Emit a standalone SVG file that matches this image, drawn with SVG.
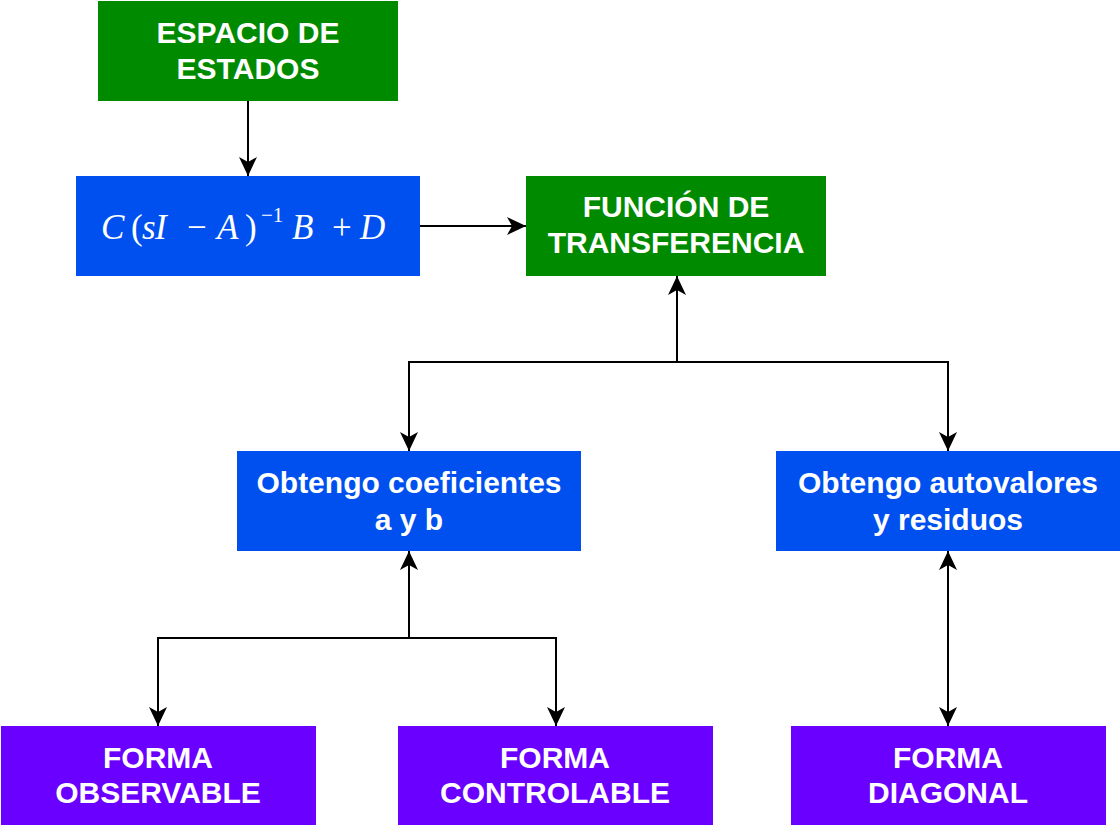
<svg xmlns="http://www.w3.org/2000/svg" width="1120" height="825" viewBox="0 0 1120 825">
<style>
.green{fill:#008a00}
.blue{fill:#0050ef}
.purple{fill:#6a00ff}
.lbl{font-family:"Liberation Sans",Arial,Helvetica,sans-serif;font-weight:bold;font-size:30px;fill:#ffffff;text-anchor:middle}
.math{font-family:"Liberation Serif","Times New Roman",serif;font-size:35px;fill:#ffffff}
.it{font-style:italic}
.conn{fill:none;stroke:#000000;stroke-width:2}
</style>
<defs>
<marker id="arr" markerUnits="userSpaceOnUse" viewBox="0 0 19 18" markerWidth="19" markerHeight="18" refX="19" refY="9" orient="auto-start-reverse">
<path d="M0,0 L19,9 L0,18 L5,9 Z" fill="#000000"/>
</marker>
</defs>
<rect width="1120" height="825" fill="#ffffff"/>
<g id="connectors">
<path class="conn" d="M248,101 L248,176" marker-end="url(#arr)"/>
<path class="conn" d="M420,226 L526,226" marker-end="url(#arr)"/>
<path class="conn" d="M677,362 L677,276" marker-end="url(#arr)"/>
<path class="conn" d="M677,362 L409,362 L409,451" marker-end="url(#arr)"/>
<path class="conn" d="M677,362 L948,362 L948,451" marker-end="url(#arr)"/>
<path class="conn" d="M409,638 L409,551" marker-end="url(#arr)"/>
<path class="conn" d="M409,638 L158,638 L158,726" marker-end="url(#arr)"/>
<path class="conn" d="M409,638 L556,638 L556,726" marker-end="url(#arr)"/>
<path class="conn" d="M948,551 L948,726" marker-start="url(#arr)" marker-end="url(#arr)"/>
</g>
<g id="espacio">
<rect class="green" x="98" y="1" width="300" height="100"/>
<text class="lbl" x="248" y="43">ESPACIO DE</text>
<text class="lbl" x="248" y="79">ESTADOS</text>
</g>
<g id="formula">
<rect class="blue" x="76" y="176" width="344" height="100"/>
<text class="math" y="239"><tspan class="it" x="101">C</tspan><tspan x="131">(</tspan><tspan class="it" x="142">s</tspan><tspan class="it" x="155">I</tspan><tspan x="187">−</tspan><tspan class="it" x="217">A</tspan><tspan x="245">)</tspan><tspan x="261" y="222" font-size="21">−1</tspan><tspan class="it" x="292" y="239">B</tspan><tspan x="332">+</tspan><tspan class="it" x="360">D</tspan></text>
</g>
<g id="funcion">
<rect class="green" x="526" y="176" width="300" height="100"/>
<text class="lbl" x="676" y="217">FUNCIÓN DE</text>
<text class="lbl" x="676" y="253">TRANSFERENCIA</text>
</g>
<g id="coeficientes">
<rect class="blue" x="237" y="451" width="344" height="100"/>
<text class="lbl" x="409" y="493">Obtengo coeficientes</text>
<text class="lbl" x="409" y="530">a y b</text>
</g>
<g id="autovalores">
<rect class="blue" x="776" y="451" width="344" height="100"/>
<text class="lbl" x="948" y="493">Obtengo autovalores</text>
<text class="lbl" x="948" y="530">y residuos</text>
</g>
<g id="observable">
<rect class="purple" x="1" y="726" width="315" height="99"/>
<text class="lbl" x="158" y="768">FORMA</text>
<text class="lbl" x="158" y="803">OBSERVABLE</text>
</g>
<g id="controlable">
<rect class="purple" x="398" y="726" width="315" height="99"/>
<text class="lbl" x="555" y="768">FORMA</text>
<text class="lbl" x="555" y="803">CONTROLABLE</text>
</g>
<g id="diagonal">
<rect class="purple" x="791" y="726" width="315" height="99"/>
<text class="lbl" x="948" y="768">FORMA</text>
<text class="lbl" x="948" y="803">DIAGONAL</text>
</g>
</svg>
